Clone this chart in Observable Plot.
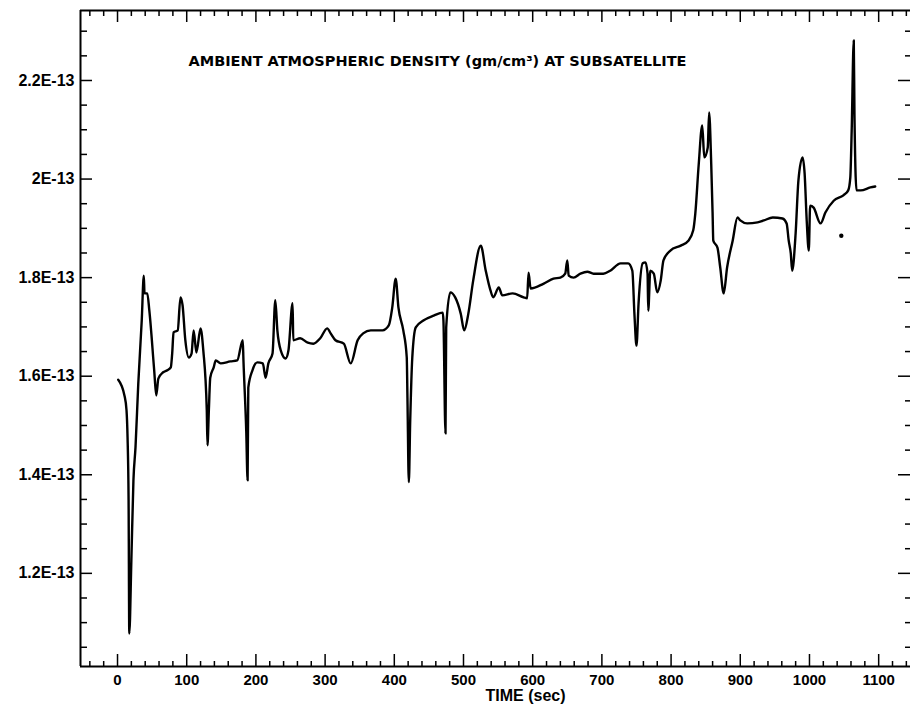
<!DOCTYPE html>
<html>
<head>
<meta charset="utf-8">
<script src="https://cdn.jsdelivr.net/npm/d3@7"></script>
<script src="https://cdn.jsdelivr.net/npm/@observablehq/plot@0.6"></script>
<style>
  html, body { margin: 0; padding: 0; background: #fff; }
  #chart svg { display: block; }
</style>
</head>
<body>
<div id="chart"></div>
<script>
// Ambient atmospheric density at the subsatellite vs. time.
// Density values are in units of 1E-13 gm/cm^3.
const timeSec = [
  1, 10, 13, 14.5, 16, 17, 20, 23, 26, 30, 35, 38, 39, 43, 46, 53, 56, 59, 66, 72,
  77, 79, 81, 87, 91, 94, 98, 103, 107, 110, 114, 120, 124, 129, 130, 132, 134, 139, 142, 149,
  163, 173, 181, 182, 186, 188, 189, 195, 202, 210, 214, 218, 224, 228, 231, 236, 243, 247, 253, 254,
  264, 275, 283, 293, 303, 308, 315, 327, 337, 347, 355, 366, 383, 392, 397, 402, 406, 413, 418, 419,
  421, 423, 426, 431, 442, 457, 470, 471, 474, 475, 481, 488, 496, 501, 507, 514, 525, 532, 539, 543,
  551, 556, 571, 587, 592, 594, 597, 616, 630, 640, 647, 650, 652, 659, 669, 679, 688, 702, 712, 727,
  738, 744, 747, 750, 753, 759, 763, 766, 767, 770, 775, 780, 785, 789, 799, 814, 825, 832, 835, 840,
  845, 848, 853, 855, 858, 860, 861, 867, 871, 876, 881, 889, 896, 900, 910, 925, 934, 947, 961, 967,
  970, 973, 975, 980, 984, 990, 993, 996, 999, 1001, 1006, 1016, 1023, 1035, 1049, 1056, 1059, 1061, 1064, 1065,
  1068, 1074, 1088, 1095
];
const densityE13 = [
  1.593, 1.561, 1.531, 1.476, 1.348, 1.078, 1.226, 1.389, 1.456, 1.585, 1.713, 1.804, 1.768, 1.768, 1.733, 1.612, 1.561, 1.595, 1.608, 1.612,
  1.618, 1.646, 1.689, 1.693, 1.760, 1.744, 1.673, 1.638, 1.646, 1.693, 1.648, 1.697, 1.652, 1.531, 1.460, 1.531, 1.597, 1.618, 1.632, 1.626,
  1.630, 1.632, 1.673, 1.632, 1.490, 1.389, 1.577, 1.612, 1.628, 1.626, 1.597, 1.626, 1.646, 1.754, 1.693, 1.652, 1.636, 1.652, 1.748, 1.673,
  1.677, 1.668, 1.666, 1.677, 1.697, 1.687, 1.673, 1.666, 1.626, 1.673, 1.687, 1.693, 1.693, 1.703, 1.739, 1.798, 1.739, 1.693, 1.638, 1.557,
  1.385, 1.510, 1.638, 1.699, 1.713, 1.723, 1.729, 1.713, 1.484, 1.699, 1.770, 1.760, 1.727, 1.693, 1.727, 1.794, 1.865, 1.815, 1.774, 1.760,
  1.780, 1.764, 1.768, 1.760, 1.758, 1.810, 1.778, 1.788, 1.798, 1.800, 1.808, 1.835, 1.804, 1.800, 1.808, 1.812, 1.808, 1.808, 1.814, 1.829,
  1.829, 1.814, 1.727, 1.662, 1.748, 1.829, 1.831, 1.808, 1.733, 1.814, 1.808, 1.770, 1.794, 1.835, 1.855, 1.865, 1.875, 1.896, 1.930, 2.031,
  2.109, 2.044, 2.064, 2.135, 2.031, 1.930, 1.875, 1.861, 1.821, 1.768, 1.821, 1.875, 1.922, 1.916, 1.910, 1.912, 1.916, 1.922, 1.920, 1.910,
  1.875, 1.849, 1.814, 1.890, 1.997, 2.044, 2.011, 1.916, 1.855, 1.946, 1.942, 1.910, 1.932, 1.956, 1.967, 1.977, 2.003, 2.098, 2.281, 2.133,
  1.977, 1.977, 1.983, 1.985
];

// Isolated plotted points off the main trace
const strayTime = [1046];
const strayDensityE13 = [1.885];

// Axis ticks and labels
const xLabelTicks = [0, 100, 200, 300, 400, 500, 600, 700, 800, 900, 1000, 1100];
const xMinorTicks = d3.range(-40, 1141, 20);
const yLabelTicks = [1.2, 1.4, 1.6, 1.8, 2.0, 2.2];
const yTickLabels = ["1.2E-13", "1.4E-13", "1.6E-13", "1.8E-13", "2E-13", "2.2E-13"];
const yMinorTicks = d3.range(1.05, 2.33, 0.05).map(v => +v.toFixed(2));

const titleText = "AMBIENT ATMOSPHERIC DENSITY (gm/cm\u00B3) AT SUBSATELLITE";
const xTitle = "TIME (sec)";

const series = timeSec.map((t, i) => ({t, v: densityE13[i]}));
const stray = strayTime.map((t, i) => ({t, v: strayDensityE13[i]}));

const W = 912, H = 708;
const mTop = 10, mRight = 2, mBottom = 42, mLeft = 80;
const innerW = W - mLeft - mRight, innerH = H - mTop - mBottom;
const xDomain = [-53.5, 1146];
const yDomain = [1.011, 2.342];

const isMajorX = d => d % 100 === 0;
const isMajorY = d => Math.abs(d * 5 - Math.round(d * 5)) < 1e-6;

const chart = Plot.plot({
  width: W,
  height: H,
  marginTop: mTop,
  marginRight: mRight,
  marginBottom: mBottom,
  marginLeft: mLeft,
  style: {fontFamily: "'Liberation Sans', Arial, sans-serif", background: "#fff", color: "#000"},
  x: {domain: xDomain},
  y: {domain: yDomain},
  marks: [
    // frame lines: left, bottom, top
    Plot.ruleX([xDomain[0]], {stroke: "#000", strokeWidth: 2}),
    Plot.ruleY([yDomain[0]], {stroke: "#000", strokeWidth: 2}),
    Plot.ruleY([yDomain[1]], {stroke: "#000", strokeWidth: 2}),
    // inward ticks along the bottom
    Plot.ruleX(xMinorTicks.filter(d => !isMajorX(d)), {stroke: "#000", strokeWidth: 1.5, insetTop: innerH - 5}),
    Plot.ruleX(xLabelTicks, {stroke: "#000", strokeWidth: 1.5, insetTop: innerH - 12}),
    // inward ticks along the top
    Plot.ruleX(xMinorTicks.filter(d => !isMajorX(d)), {stroke: "#000", strokeWidth: 1.5, insetBottom: innerH - 6}),
    Plot.ruleX(xLabelTicks, {stroke: "#000", strokeWidth: 1.5, insetBottom: innerH - 12}),
    // inward ticks along the left
    Plot.ruleY(yMinorTicks.filter(d => !isMajorY(d)), {stroke: "#000", strokeWidth: 1.5, insetRight: innerW - 7}),
    Plot.ruleY(yLabelTicks, {stroke: "#000", strokeWidth: 1.5, insetRight: innerW - 12}),
    // inward ticks along the right
    Plot.ruleY(yMinorTicks.filter(d => !isMajorY(d)), {stroke: "#000", strokeWidth: 1.5, insetLeft: innerW - 5}),
    Plot.ruleY(yLabelTicks, {stroke: "#000", strokeWidth: 1.5, insetLeft: innerW - 12}),
    // tick labels
    Plot.axisX({ticks: xLabelTicks, tickSize: 0, tickPadding: 8, tickFormat: d => String(d), fontSize: 15, fontWeight: "bold", label: null}),
    Plot.axisY({ticks: yLabelTicks, tickSize: 0, tickPadding: 6, tickFormat: d => yTickLabels[yLabelTicks.indexOf(d)], fontSize: 16, fontWeight: "bold", label: null}),
    // density trace
    Plot.line(series, {x: "t", y: "v", stroke: "#000", strokeWidth: 2.4, strokeLinejoin: "round", curve: "monotone-x"}),
    Plot.dot(stray, {x: "t", y: "v", r: 2.2, fill: "#000", stroke: "none"}),
    // titles
    Plot.text([titleText], {frameAnchor: "top-left", dx: 108, dy: 45, textAnchor: "start", fontSize: 14.5, fontWeight: "bold", fontFamily: "'DejaVu Sans', sans-serif", fill: "#000"}),
    Plot.text([xTitle], {frameAnchor: "bottom", dx: 30, dy: 34, fontSize: 16, fontWeight: "bold", fill: "#000"})
  ]
});

document.getElementById("chart").appendChild(chart);
</script>
</body>
</html>
